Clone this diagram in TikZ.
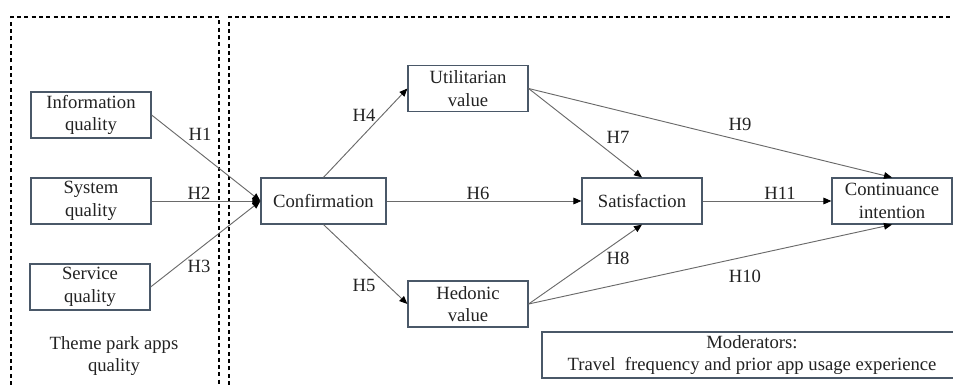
\documentclass[tikz,border=0pt]{standalone}
\usepackage{fontspec}
\setmainfont{Liberation Serif}
\usetikzlibrary{arrows.meta}
\definecolor{boxc}{HTML}{4A5868}
\definecolor{linec}{HTML}{6A6A6A}
\definecolor{txtc}{HTML}{222222}
\begin{document}
\begin{tikzpicture}[x=0.75pt,y=-0.75pt,
  cbox/.style={draw=boxc, line width=0.9pt, fill=white, text=txtc, minimum width=90pt, minimum height=34.5pt, inner sep=0pt, align=center, font=\fontsize{14pt}{17pt}\selectfont},
  conn/.style={draw=linec, line width=0.7pt, -{Triangle[length=6pt,width=5pt,color=black]}},
  hlab/.style={font=\fontsize{14pt}{17pt}\selectfont, text=txtc, inner sep=0pt},
  dsh/.style={draw=black, line width=0.8pt, dash pattern=on 3pt off 2.5pt}]
\clip (0,0) rectangle (953,385);
\useasboundingbox (0,0) rectangle (953,385);
% dashed frames
\draw[dsh] (11,385) -- (11,17) -- (219,17) -- (219,385);
\draw[dsh] (229,385) -- (229,17) -- (960,17);
% nodes
\node[cbox] (info) at (91,115) {Information\\quality};
\node[cbox] (sys) at (91,201) {System\\quality};
\node[cbox] (serv) at (90,287) {Service\\quality};
\node[cbox, minimum width=93.75pt] (conf) at (323.5,201) {Confirmation};
\node[cbox] (util) at (468,88.5) {Utilitarian\\value};
\node[cbox] (hed) at (468,304) {Hedonic\\value};
\node[cbox] (sat) at (642,201) {Satisfaction};
\node[cbox] (cont) at (892,201) {Continuance\\intention};
\node[cbox, minimum width=315pt] (mod) at (752,355) {Moderators:\\Travel\ \ frequency and prior app usage experience};
\node[hlab, align=center, font=\fontsize{14pt}{16.5pt}\selectfont] (theme) at (114,356) {Theme park apps\\quality};
% connectors
\draw[conn] (info.east) -- (conf.west);
\draw[conn] (sys.east) -- (conf.west);
\draw[conn] (serv.east) -- (conf.west);
\draw[conn] (conf.north) -- (util.west);
\draw[conn] (conf.south) -- (hed.west);
\draw[conn] (conf.east) -- (sat.west);
\draw[conn] (util.east) -- (sat.north);
\draw[conn] (util.east) -- (cont.north);
\draw[conn] (hed.east) -- (sat.south);
\draw[conn] (hed.east) -- (cont.south);
\draw[conn] (sat.east) -- (cont.west);
% labels
\node[hlab] (h1) at (200,134) {H1};
\node[hlab] (h2) at (199,193) {H2};
\node[hlab] (h3) at (199,266) {H3};
\node[hlab] (h4) at (364,115) {H4};
\node[hlab] (h5) at (364,285) {H5};
\node[hlab] (h6) at (478,193) {H6};
\node[hlab] (h7) at (618,137) {H7};
\node[hlab] (h8) at (618,258) {H8};
\node[hlab] (h9) at (740,124) {H9};
\node[hlab] (h10) at (745,276) {H10};
\node[hlab] (h11) at (780,193) {H11};
\end{tikzpicture}
\end{document}
